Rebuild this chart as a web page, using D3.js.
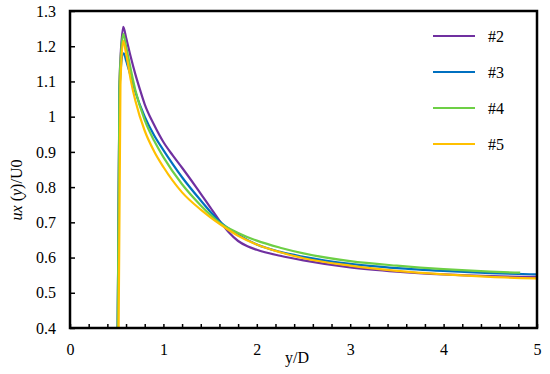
<meta charset="utf-8">
<script src="https://d3js.org/d3.v7.min.js"></script>
<div id="chart"></div>
<script>
// series data
var x2 = [0.51, 0.53, 0.57, 0.6, 0.65, 0.7, 0.75, 0.8, 0.9, 1.0, 1.1, 1.2, 1.35, 1.5, 1.6, 1.7, 1.8, 1.9, 2.0, 2.25, 2.5, 3.0, 3.5, 4.0, 4.5, 5.0];
var y2 = [0.38, 1.10, 1.255, 1.225, 1.17, 1.12, 1.076, 1.035, 0.977, 0.928, 0.89, 0.855, 0.80, 0.743, 0.705, 0.672, 0.647, 0.632, 0.622, 0.605, 0.592, 0.572, 0.56, 0.552, 0.547, 0.545];
var x3 = [0.51, 0.53, 0.575, 0.6, 0.65, 0.7, 0.8, 0.9, 1.0, 1.2, 1.4, 1.5, 1.6, 1.8, 2.0, 2.25, 2.5, 3.0, 3.5, 4.0, 4.5, 5.0];
var y3 = [0.38, 1.08, 1.18, 1.16, 1.115, 1.07, 1.0, 0.947, 0.905, 0.828, 0.762, 0.731, 0.703, 0.665, 0.637, 0.616, 0.602, 0.582, 0.57, 0.562, 0.556, 0.552];
var x4 = [0.51, 0.53, 0.57, 0.6, 0.65, 0.7, 0.8, 0.9, 1.0, 1.2, 1.4, 1.5, 1.6, 1.8, 2.0, 2.25, 2.5, 3.0, 3.5, 4.0, 4.5, 4.82];
var y4 = [0.38, 1.10, 1.235, 1.20, 1.135, 1.075, 0.99, 0.932, 0.885, 0.808, 0.748, 0.722, 0.699, 0.67, 0.648, 0.628, 0.612, 0.59, 0.577, 0.567, 0.56, 0.557];
var x5 = [0.52, 0.54, 0.57, 0.6, 0.65, 0.7, 0.8, 0.9, 1.0, 1.2, 1.4, 1.5, 1.6, 1.8, 2.0, 2.25, 2.5, 3.0, 3.5, 4.0, 4.5, 5.0];
var y5 = [0.38, 1.09, 1.215, 1.18, 1.105, 1.045, 0.96, 0.902, 0.857, 0.785, 0.736, 0.715, 0.696, 0.662, 0.637, 0.615, 0.598, 0.577, 0.562, 0.552, 0.545, 0.541];

var names = ["#2", "#3", "#4", "#5"];
var colors = ["#7030A0", "#0070C0", "#6DCF45", "#FFC000"];
var xTicks = [0, 1, 2, 3, 4, 5];
var yTicks = [0.4, 0.5, 0.6, 0.7, 0.8, 0.9, 1, 1.1, 1.2, 1.3];

var series = [
  { name: names[0], color: colors[0], xs: x2, ys: y2 },
  { name: names[1], color: colors[1], xs: x3, ys: y3 },
  { name: names[2], color: colors[2], xs: x4, ys: y4 },
  { name: names[3], color: colors[3], xs: x5, ys: y5 }
];

var W = 550, H = 374;
var pl = 70, pr = 537, pt = 11, pb = 328;
var FONT = "'Liberation Serif', 'Times New Roman', serif";

d3.select("body").style("margin", "0").style("background", "#fff");

var x = d3.scaleLinear().domain([0, 5]).range([pl, pr]);
var y = d3.scaleLinear().domain([0.4, 1.3]).range([pb, pt]);

var svg = d3.select("#chart").append("svg")
  .attr("width", W)
  .attr("height", H)
  .style("display", "block");

svg.append("defs").append("clipPath").attr("id", "clip")
  .append("rect")
  .attr("x", pl).attr("y", pt)
  .attr("width", pr - pl).attr("height", pb - pt);

// lines
var line = d3.line()
  .x(function(d) { return x(d[0]); })
  .y(function(d) { return y(d[1]); })
  .curve(d3.curveMonotoneX);

svg.append("g").attr("clip-path", "url(#clip)")
  .selectAll("path")
  .data(series)
  .enter()
  .append("path")
  .attr("fill", "none")
  .attr("stroke", function(d) { return d.color; })
  .attr("stroke-width", 2.2)
  .attr("d", function(d) {
    return line(d.xs.map(function(v, i) { return [v, d.ys[i]]; }));
  });

// frame
svg.append("rect")
  .attr("x", pl).attr("y", pt)
  .attr("width", pr - pl).attr("height", pb - pt)
  .attr("fill", "none")
  .attr("stroke", "#000")
  .attr("stroke-width", 2.5);

// x axis: minor ticks every 0.2, pointing inside
var xAxis = d3.axisBottom(x)
  .tickValues(d3.range(0, 5.01, 0.2))
  .tickSize(-4)
  .tickFormat(function(d) {
    var r = Math.round(d * 10) / 10;
    return xTicks.indexOf(r) >= 0 ? d3.format("d")(r) : "";
  });

var gx = svg.append("g")
  .attr("transform", "translate(0," + pb + ")")
  .call(xAxis);
gx.attr("font-family", null);
gx.select(".domain").remove();
gx.selectAll(".tick line").attr("stroke-width", 1.5);
gx.selectAll("text")
  .attr("y", 16)
  .style("font-family", FONT)
  .style("font-size", "16px");

var yAxis = d3.axisLeft(y)
  .tickValues(yTicks)
  .tickSize(-5)
  .tickPadding(14)
  .tickFormat(function(d) { return String(d); });

var gy = svg.append("g")
  .attr("transform", "translate(" + pl + ",0)")
  .call(yAxis);
gy.attr("font-family", null);
gy.select(".domain").remove();
gy.selectAll(".tick line").attr("stroke-width", 1.5);
gy.selectAll("text")
  .style("font-family", FONT)
  .style("font-size", "16px");

// axis titles
svg.append("text")
  .attr("x", 297)
  .attr("y", 363)
  .attr("text-anchor", "middle")
  .style("font-family", FONT)
  .style("font-size", "16px")
  .text("y/D");

var yt = svg.append("text")
  .attr("transform", "translate(22,190) rotate(-90)")
  .attr("text-anchor", "middle")
  .style("font-family", FONT)
  .style("font-size", "16px");
yt.append("tspan").style("font-style", "italic").text("ux");
yt.append("tspan").text(" (");
yt.append("tspan").style("font-style", "italic").text("y");
yt.append("tspan").text(")/U0");

// legend
var leg = svg.append("g")
  .selectAll("g")
  .data(series)
  .enter()
  .append("g")
  .attr("transform", function(d, i) { return "translate(433," + (36 + i * 36) + ")"; });

leg.append("line")
  .attr("x1", 0).attr("x2", 42)
  .attr("stroke", function(d) { return d.color; })
  .attr("stroke-width", 2);

leg.append("text")
  .attr("x", 55)
  .attr("dy", "0.35em")
  .style("font-family", FONT)
  .style("font-size", "16px")
  .text(function(d) { return d.name; });
</script>
